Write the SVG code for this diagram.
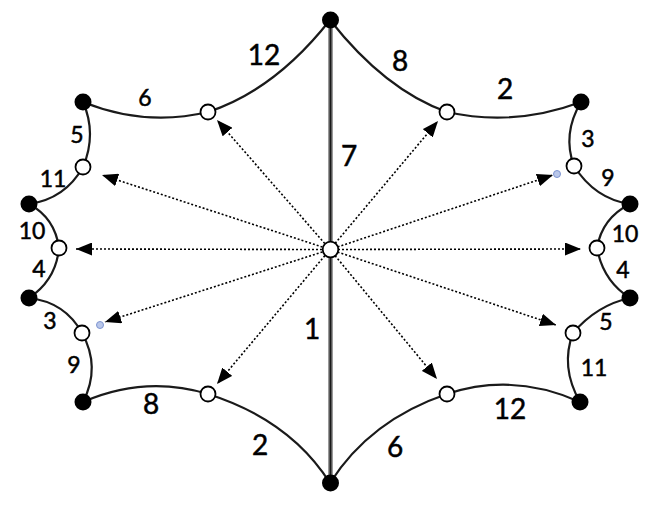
<svg xmlns="http://www.w3.org/2000/svg" width="663" height="507" viewBox="0 0 663 507">
<style>
.edge{fill:none;stroke:#1a1a1a;stroke-width:2.2}
.arr{fill:none;stroke:#000;stroke-width:1.6;stroke-dasharray:2 2}
.dot{fill:#000}
.open{fill:#fff;stroke:#000;stroke-width:1.8}
.blue{fill:#b9c7ea;stroke:#7e95d1;stroke-width:1}
text{font-family:Lato,"Liberation Sans",sans-serif;fill:#000;stroke:#000;stroke-width:0.5;text-anchor:middle}
.lg{font-size:28px}
.sm{font-size:23px}
</style>
<defs>
<marker id="ah" markerUnits="userSpaceOnUse" markerWidth="17" markerHeight="13" refX="16" refY="6.5" orient="auto">
<path d="M0,0 L16,6.5 L0,13 z" fill="#000"/>
</marker>
</defs>
<rect width="663" height="507" fill="#fff"/>
<g id="connectors">
<line x1="330.5" y1="20" x2="330.5" y2="483" stroke="#9a9a9a" stroke-width="5"/>
<line x1="330.5" y1="20" x2="330.5" y2="483" stroke="#1a1a1a" stroke-width="2"/>
<path class="edge" d="M330,20 Q275,90 208,112"/>
<path class="edge" d="M208,112 Q145,127 83,102"/>
<path class="edge" d="M83,102 Q97,134 83,167"/>
<path class="edge" d="M83,167 Q65,199 29,204"/>
<path class="edge" d="M29,204 Q55,218 59,248"/>
<path class="edge" d="M59,248 Q56,280 29,298"/>
<path class="edge" d="M29,298 Q65,302 82,333"/>
<path class="edge" d="M82,333 Q101,367 83,402"/>
<path class="edge" d="M83,402 Q145,375 208,394"/>
<path class="edge" d="M208,394 Q290,420 330,483"/>
<path class="edge" d="M330,20 Q385,90 447,112"/>
<path class="edge" d="M447,112 Q514,127 581,102"/>
<path class="edge" d="M581,102 Q562,134 574,166"/>
<path class="edge" d="M574,166 Q595,199 630,204"/>
<path class="edge" d="M630,204 Q602,218 597,248"/>
<path class="edge" d="M597,248 Q603,281 630,298"/>
<path class="edge" d="M630,298 Q597,305 573,333"/>
<path class="edge" d="M573,333 Q560,367 580,402"/>
<path class="edge" d="M580,402 Q513,372 447,394"/>
<path class="edge" d="M447,394 Q370,420 330,483"/>
<line class="arr" x1="330" y1="249.5" x2="217" y2="120" marker-end="url(#ah)"/>
<line class="arr" x1="330" y1="249.5" x2="102" y2="175" marker-end="url(#ah)"/>
<line class="arr" x1="330" y1="249.5" x2="76" y2="249" marker-end="url(#ah)"/>
<line class="arr" x1="330" y1="249.5" x2="105" y2="322" marker-end="url(#ah)"/>
<line class="arr" x1="330" y1="249.5" x2="217" y2="384" marker-end="url(#ah)"/>
<line class="arr" x1="330" y1="249.5" x2="438" y2="121" marker-end="url(#ah)"/>
<line class="arr" x1="330" y1="249.5" x2="553" y2="175" marker-end="url(#ah)"/>
<line class="arr" x1="330" y1="249.5" x2="581" y2="249" marker-end="url(#ah)"/>
<line class="arr" x1="330" y1="249.5" x2="556" y2="325" marker-end="url(#ah)"/>
<line class="arr" x1="330" y1="249.5" x2="437" y2="379" marker-end="url(#ah)"/>
</g>
<g id="labels">
<text class="lg" x="264" y="65">12</text>
<text class="sm" x="145" y="106">6</text>
<text class="sm" x="77" y="143">5</text>
<text class="sm" x="53" y="187">11</text>
<text class="sm" x="32" y="239">10</text>
<text class="sm" x="39" y="277">4</text>
<text class="sm" x="50" y="329">3</text>
<text class="sm" x="74" y="373">9</text>
<text class="lg" x="151" y="414">8</text>
<text class="lg" x="260" y="455">2</text>
<text class="lg" x="312" y="339">1</text>
<text class="lg" x="349" y="166">7</text>
<text class="lg" x="400" y="71">8</text>
<text class="lg" x="505" y="99">2</text>
<text class="sm" x="588" y="147">3</text>
<text class="sm" x="608" y="186">9</text>
<text class="sm" x="625" y="242">10</text>
<text class="sm" x="623" y="278">4</text>
<text class="sm" x="606" y="330">5</text>
<text class="sm" x="594" y="376">11</text>
<text class="lg" x="510" y="419">12</text>
<text class="lg" x="395" y="457">6</text>
</g>
<g id="n-top"><circle class="dot" cx="330.5" cy="20" r="8.5"/></g>
<g id="n-bottom"><circle class="dot" cx="330.5" cy="483" r="8.5"/></g>
<g id="n-l1"><circle class="dot" cx="83" cy="102" r="8.5"/></g>
<g id="n-l2"><circle class="dot" cx="29" cy="204" r="8.5"/></g>
<g id="n-l3"><circle class="dot" cx="29" cy="298" r="8.5"/></g>
<g id="n-l4"><circle class="dot" cx="83" cy="402" r="8.5"/></g>
<g id="n-r1"><circle class="dot" cx="581" cy="102" r="8.5"/></g>
<g id="n-r2"><circle class="dot" cx="630" cy="204" r="8.5"/></g>
<g id="n-r3"><circle class="dot" cx="630" cy="298" r="8.5"/></g>
<g id="n-r4"><circle class="dot" cx="580" cy="402" r="8.5"/></g>
<g id="o-center"><circle class="open" cx="330.5" cy="249.5" r="7.8"/></g>
<g id="o-l1"><circle class="open" cx="208" cy="112" r="7.5"/></g>
<g id="o-l2"><circle class="open" cx="83" cy="167" r="7.5"/></g>
<g id="o-l3"><circle class="open" cx="59" cy="248" r="7.5"/></g>
<g id="o-l4"><circle class="open" cx="82" cy="333" r="7.5"/></g>
<g id="o-l5"><circle class="open" cx="208" cy="394" r="7.5"/></g>
<g id="o-r1"><circle class="open" cx="447" cy="112" r="7.5"/></g>
<g id="o-r2"><circle class="open" cx="574" cy="166" r="7.5"/></g>
<g id="o-r3"><circle class="open" cx="597" cy="248" r="7.5"/></g>
<g id="o-r4"><circle class="open" cx="573" cy="333" r="7.5"/></g>
<g id="o-r5"><circle class="open" cx="447" cy="394" r="7.5"/></g>
<g id="b-l"><circle class="blue" cx="100" cy="325" r="3.5"/></g>
<g id="b-r"><circle class="blue" cx="557" cy="174" r="3.5"/></g>
</svg>
